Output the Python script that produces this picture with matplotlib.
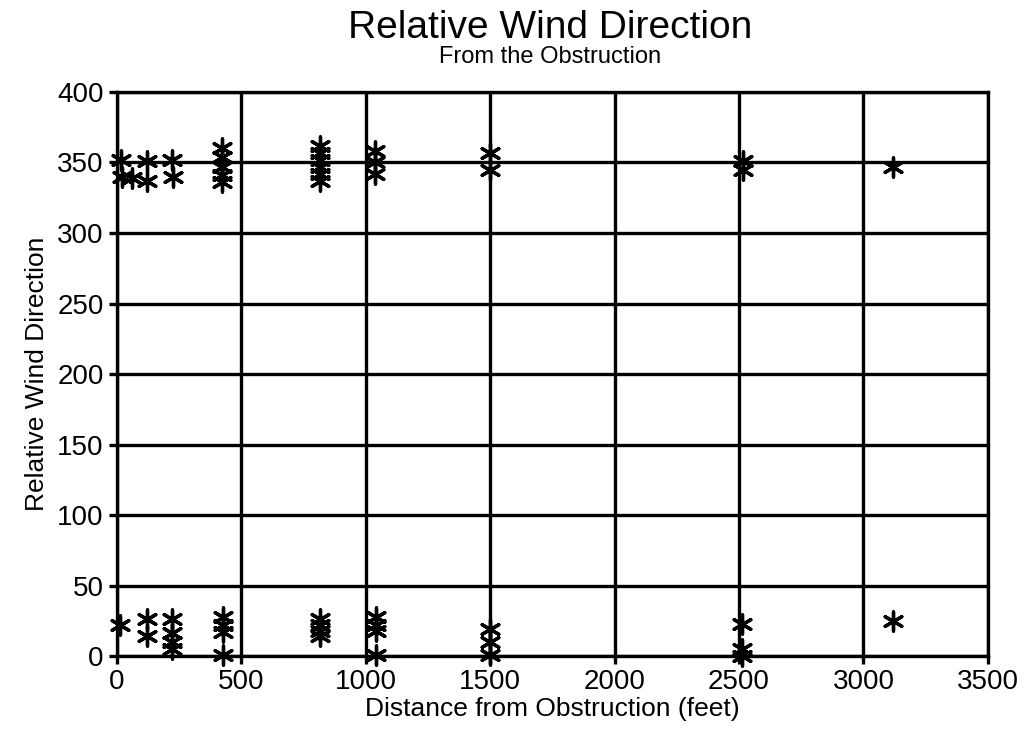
import matplotlib.pyplot as plt
import numpy as np

plt.rcParams['font.family'] = ['Liberation Sans', 'DejaVu Sans']

# distance from obstruction (feet) and relative wind direction (degrees)
dist = [15, 22, 60, 120, 120, 220, 225,
        422, 422, 422, 422, 422,
        815, 815, 815, 815, 815, 815,
        1036, 1036, 1036,
        1500, 1500,
        2515, 2515,
        3117,
        12, 120, 120, 220, 220, 220, 220,
        425, 425, 425, 425,
        815, 815, 815, 815,
        1040, 1040, 1040, 1040,
        1500, 1500, 1500,
        2512, 2512, 2512,
        3117]
direction = [352, 340, 339, 351, 337, 352, 340,
             360, 354, 347, 341, 336,
             362, 357, 352, 347, 342, 337,
             358, 350, 342,
             357, 345,
             351, 345,
             347,
             22, 26, 14, 26, 16, 10, 5,
             28, 22, 17, 1,
             26, 22, 18, 14,
             28, 22, 18, 1,
             19, 10, 1,
             23, 5, 0,
             25]

xticks = [0, 500, 1000, 1500, 2000, 2500, 3000, 3500]
yticks = [0, 50, 100, 150, 200, 250, 300, 350, 400]

fig = plt.figure(figsize=(10.29, 7.46), dpi=100)
ax = fig.add_axes([0.1137, 0.1206, 0.8463, 0.7561])

ax.scatter(dist, direction, marker=(6, 2, 0), s=190, c='black',
           linewidths=2.4, zorder=3, clip_on=False)

ax.set_xlim(0, 3500)
ax.set_ylim(0, 400)
ax.set_xticks(xticks)
ax.set_yticks(yticks)
ax.grid(True, color='black', linewidth=2.4)
ax.set_axisbelow(True)
for s in ax.spines.values():
    s.set_linewidth(2.4)
ax.tick_params(axis='both', labelsize=20, width=2.4, length=6, direction='out')

ax.set_xlabel('Distance from Obstruction (feet)', fontsize=19, labelpad=1)
ax.set_ylabel('Relative Wind Direction', fontsize=19, labelpad=6)

fig.text(0.535, 0.962, 'Relative Wind Direction', ha='center', va='center', fontsize=28)
fig.text(0.535, 0.924, 'From the Obstruction', ha='center', va='center', fontsize=17)

fig.savefig('out.png', dpi=100, facecolor='white')
